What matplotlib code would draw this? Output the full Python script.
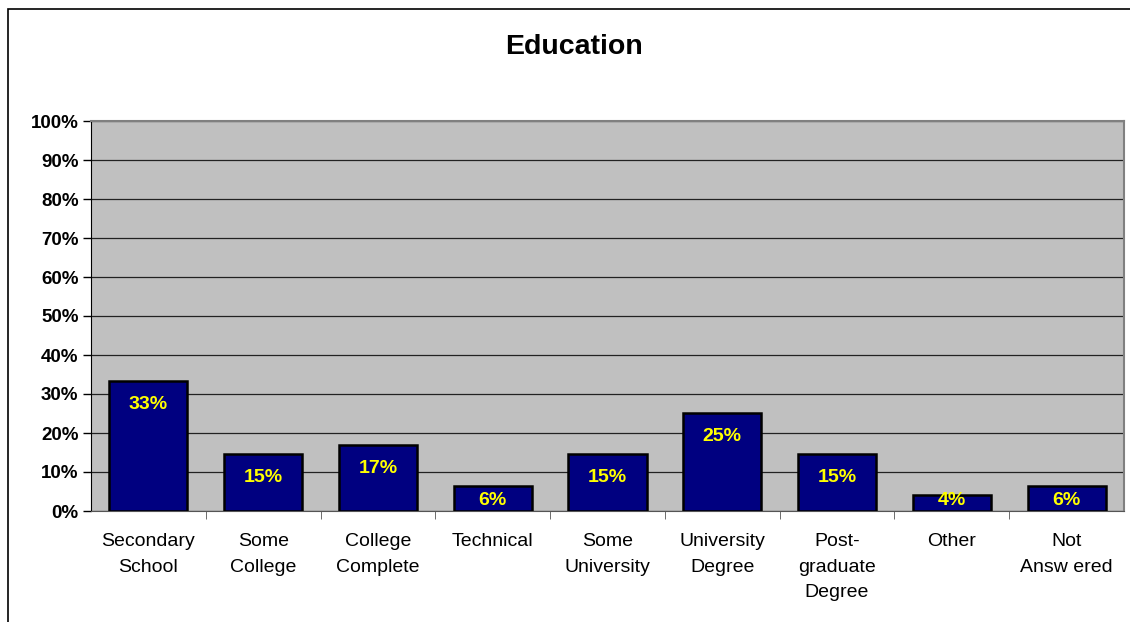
import numpy as np
import matplotlib.pyplot as plt
from matplotlib.patches import Rectangle

plt.rcParams['font.family'] = ['Liberation Sans', 'DejaVu Sans']

categories = ['Secondary\nSchool', 'Some\nCollege', 'College\nComplete', 'Technical',
              'Some\nUniversity', 'University\nDegree', 'Post-\ngraduate\nDegree',
              'Other', 'Not\nAnsw ered']
shares = [33.3, 14.6, 16.9, 6.4, 14.6, 25.1, 14.6, 4.1, 6.4]
yticks = list(range(0, 101, 10))

fig = plt.figure(figsize=(11.3, 6.22), dpi=100)
W, H = 1130, 622
ax = fig.add_axes([91 / W, 1 - 511 / H, (1124 - 91) / W, (511 - 121) / H])

# chart area frame (left and top edges show)
fig.patches.append(Rectangle((8 / W, -0.1), 1.2, 1 - 9 / H + 0.1, transform=fig.transFigure,
                             fill=False, edgecolor='black', lw=1.2))

x = np.arange(len(categories))
ax.set_facecolor('#c0c0c0')
ax.set_axisbelow(True)
ax.yaxis.grid(True, color='#222222', lw=0.9)
ax.bar(x, shares, width=0.68, color='#000080', edgecolor='black', lw=1.8, zorder=3)

for xi, v in zip(x, shares):
    ypos = max(v - 5.9, 2.8)
    ax.text(xi, ypos, f'{v:.0f}%', ha='center', va='center', color='yellow',
            fontsize=14, fontweight='bold', zorder=4)

ax.set_xlim(-0.5, len(categories) - 0.5)
ax.set_ylim(0, 100)
ax.set_yticks(yticks)
ax.set_yticklabels([f'{t}%' for t in yticks], fontsize=13.5, fontweight='bold')
ax.set_xticks(x)
ax.set_xticklabels(categories, fontsize=14, linespacing=1.65, va='top')
ax.tick_params(axis='x', length=0, pad=16)
ax.set_xticks(np.arange(0.5, len(categories) - 1, 1), minor=True)
ax.tick_params(axis='x', which='minor', length=6, color='#555555', direction='out')
ax.tick_params(axis='y', length=6, width=1, pad=3, direction='out')

for side in ['top', 'right']:
    ax.spines[side].set_color('#808080')
    ax.spines[side].set_linewidth(1.5)
ax.spines['left'].set_color('black')
ax.spines['bottom'].set_color('#555555')

fig.text(574 / W, 1 - 47 / H, 'Education', ha='center', va='center',
         fontsize=20.5, fontweight='bold')

fig.savefig('out.png', dpi=100)
